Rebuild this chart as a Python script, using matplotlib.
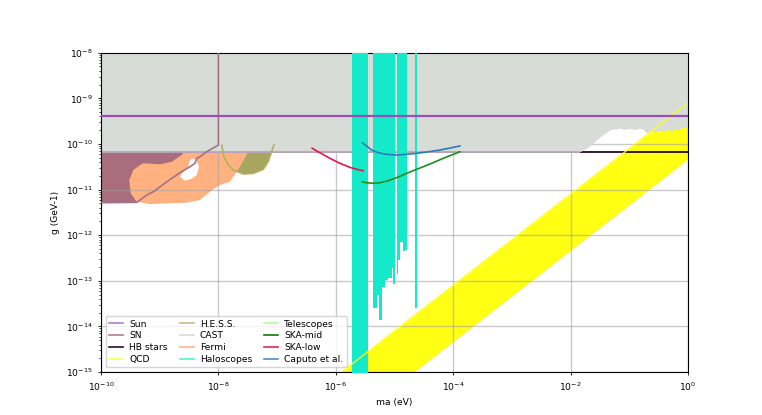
import numpy as np
import matplotlib
matplotlib.use('Agg')
import matplotlib.pyplot as plt
from matplotlib.lines import Line2D

plt.rcParams['font.size'] = 6.6

# Limites del grafico (eV, GeV^-1)
m_lim = (1e-10, 1.0)
g_lim = (1e-15, 1e-8)

# Sol y estrellas HB
sun_g = 4.1e-10
hb_g = 6.6e-11

# SN
sn_m = [1e-8, 1e-8, 6.31e-9, 4.85e-9, 4.27e-9, 3.99e-9, 3.28e-9, 2.21e-9,
        1.32e-9, 7.78e-10, 6.0e-10, 4.61e-10, 4.06e-10, 1e-10]
sn_g = [1e-8, 9.46e-11, 6.75e-11, 5.24e-11, 4.83e-11, 3.76e-11, 3.16e-11, 2.33e-11,
        1.48e-11, 8.95e-12, 7.57e-12, 5.89e-12, 5.24e-12, 5.14e-12]

# CAST
cast_m = [1e-10, 1.4e-2, 2.13e-2, 3.15e-2, 3.98e-2, 4.66e-2, 5.3e-2, 6.0e-2, 6.9e-2,
          8.0e-2, 0.102, 0.12, 0.145, 0.17, 0.199, 0.23, 0.27, 0.33, 0.38, 0.45,
          0.52, 0.6, 0.7, 0.8, 0.9, 1.0]
cast_g = [6.6e-11, 6.6e-11, 9.0e-11, 1.42e-10, 1.78e-10, 2.02e-10, 2.15e-10, 2.1e-10, 2.23e-10,
          2.08e-10, 2.18e-10, 2.05e-10, 2.2e-10, 2.12e-10, 1.73e-10, 1.95e-10, 1.82e-10, 2.02e-10,
          1.85e-10, 2.1e-10, 1.9e-10, 2.23e-10, 2.0e-10, 2.35e-10, 2.2e-10, 2.6e-10]

# QCD
qcd_m = [1e-7, 1.0]
qcd_lo = [4.68e-18, 4.68e-11]
qcd_hi = [7.94e-17, 7.94e-10]

# Fermi
fermi_m = [2.70e-9, 3.31e-8, 2.33e-8, 1.574e-8, 1.064e-8, 7.18e-9, 4.85e-9, 2.88e-9,
           1.315e-9, 6.82e-10, 4.06e-10, 3.21e-10, 3.03e-10, 3.55e-10, 4.61e-10,
           5.25e-10, 1.012e-9, 1.60e-9, 2.37e-9]
fermi_g = [7.10e-11, 7.10e-11, 3.16e-11, 1.48e-11, 1.256e-11, 8.95e-12, 5.89e-12, 5.14e-12,
           4.98e-12, 4.81e-12, 5.40e-12, 8.26e-12, 1.614e-11, 2.68e-11, 3.44e-11,
           3.76e-11, 3.57e-11, 4.07e-11, 5.71e-11]
hole_m = [3.51e-9, 4.15e-9, 4.67e-9, 4.27e-9, 3.41e-9, 2.70e-9, 2.21e-9, 2.52e-9, 3.07e-9, 3.19e-9]
hole_g = [4.83e-11, 4.55e-11, 3.16e-11, 2.08e-11, 1.70e-11, 1.56e-11, 1.91e-11, 2.45e-11,
          3.16e-11, 4.07e-11]

# H.E.S.S.
hess_m = [1.138e-8, 1.245e-8, 1.472e-8, 1.79e-8, 2.65e-8, 3.93e-8, 5.81e-8, 7.06e-8, 8.07e-8, 8.83e-8]
hess_g = [9.46e-11, 5.24e-11, 3.44e-11, 2.68e-11, 2.19e-11, 2.26e-11, 2.77e-11, 4.07e-11,
          6.75e-11, 9.46e-11]

# Haloscopios (escalones)
halo_m = [1.86e-6, 3.57e-6, 4.34e-6, 4.95e-6, 5.42e-6, 6.03e-6, 6.85e-6, 7.82e-6, 8.93e-6,
          9.51e-6, 1.016e-5, 1.086e-5, 1.156e-5, 1.236e-5, 1.374e-5, 1.503e-5, 1.644e-5,
          2.25e-5, 2.40e-5, 1.0]
halo_g = [1e-16, 1e-8, 2.48e-14, 4.9e-14, 1.41e-14, 7.2e-14, 1.04e-13, 1.17e-13, 1.86e-13,
          8.3e-14, 1e-8, 1.41e-13, 2.8e-13, 7.2e-13, 4.4e-13, 4.7e-13, 1e-8, 2.5e-14, 1e-8, 1e-8]

# SKA y Caputo et al.
ska_low_m = [3.96e-7, 5.37e-7, 7.94e-7, 1.175e-6, 1.738e-6, 2.41e-6, 2.93e-6]
ska_low_g = [8.02e-11, 6.41e-11, 4.83e-11, 3.76e-11, 3.07e-11, 2.72e-11, 2.58e-11]
ska_mid_m = [2.82e-6, 3.35e-6, 4.34e-6, 5.64e-6, 7.82e-6, 1.086e-5, 1.607e-5, 2.38e-5,
             4.01e-5, 6.76e-5, 1.30e-4]
ska_mid_g = [1.48e-11, 1.41e-11, 1.37e-11, 1.41e-11, 1.56e-11, 1.82e-11, 2.26e-11, 2.77e-11,
             3.62e-11, 4.83e-11, 6.75e-11]
caputo_m = [2.82e-6, 3.35e-6, 4.07e-6, 5.27e-6, 7.33e-6, 1.086e-5, 1.607e-5, 2.38e-5,
            3.52e-5, 5.93e-5, 1.30e-4]
caputo_g = [1.06e-10, 8.99e-11, 7.35e-11, 6.41e-11, 5.92e-11, 5.71e-11, 5.92e-11, 6.22e-11,
            6.64e-11, 7.35e-11, 9.0e-11]

fig = plt.figure(figsize=(7.62, 4.15), dpi=100)
ax = fig.add_axes([101 / 762, 1 - 372 / 415, 587 / 762, 319.3 / 415])
ax.set_xscale('log')
ax.set_yscale('log')

# Regiones rellenas
ax.fill_between(qcd_m, qcd_lo, qcd_hi, color='#ffff14', lw=0, zorder=1.0)
ax.fill(sn_m + [m_lim[0]], sn_g + [g_lim[1]], color='#a86e7e', lw=0, zorder=1.1)
ax.fill(hess_m, hess_g, color='#a8a55e', lw=0, zorder=1.2)
ax.fill(fermi_m, fermi_g, color='#ffb27f', lw=0, zorder=1.3)
ax.fill(hole_m, hole_g, color='white', lw=0, zorder=1.35)
ax.plot(m_lim, [hb_g, hb_g], color='#24092f', lw=1.3, zorder=1.4)
ax.fill_between(cast_m, cast_g, g_lim[1], color='#d8dcd6', lw=0, zorder=2.0)
flat = np.array(cast_g) <= hb_g * 1.01
ax.plot(np.array(cast_m)[flat], np.array(cast_g)[flat], color='#b9a4bc', lw=1.3, zorder=2.1)
ax.fill_between(halo_m, halo_g, g_lim[1], step='post', color='#14e9c9', lw=0, zorder=3.0)
ax.plot(qcd_m, qcd_hi, color='#ffff14', lw=0.9, zorder=3.1)

# Curvas
ax.plot(sn_m, sn_g, color='#a3728a', lw=1.2, zorder=3.2)
ax.plot(hess_m, hess_g, color='#b3b062', lw=1.2, zorder=3.2)
ax.plot(ska_low_m, ska_low_g, color='#e3174a', lw=1.2, zorder=3.3)
ax.plot(ska_mid_m, ska_mid_g, color='#1a8f1a', lw=1.2, zorder=3.3)
ax.plot(caputo_m, caputo_g, color='#2c7bb6', lw=1.2, zorder=3.3)
ax.plot(m_lim, [sun_g, sun_g], color='#9b4fb4', lw=1.6, zorder=3.4)

ax.set_xlim(*m_lim)
ax.set_ylim(*g_lim)
ax.set_xticks([1e-10, 1e-8, 1e-6, 1e-4, 1e-2, 1.0])
ax.xaxis.set_minor_locator(matplotlib.ticker.NullLocator())
ax.tick_params(which='major', length=2.5, width=0.6)
ax.tick_params(which='minor', length=1.5, width=0.5)
ax.grid(True, which='major', color='#a0a0a0', alpha=0.55, lw=1.0, zorder=2.5)
ax.set_xlabel('ma (eV)')
ax.set_ylabel('g (GeV-1)')

labels = ['Sun', 'SN', 'HB stars', 'QCD', 'H.E.S.S.', 'CAST', 'Fermi', 'Haloscopes',
          'Telescopes', 'SKA-mid', 'SKA-low', 'Caputo et al.']
colors = ['#b47ed0', '#b07d93', '#2b0b3f', '#ffff5a', '#bfbd8c', '#d9d9d9', '#ffb88f',
          '#50f0d6', '#b3ff9e', '#0b7d0b', '#e8264f', '#4f8cc2']
handles = [Line2D([], [], color=c, lw=1.2) for c in colors]
ax.legend(handles, labels, loc='lower left', ncol=3, fontsize=6.6, labelspacing=0.3,
          handlelength=1.5, handletextpad=0.7, columnspacing=1.3)

plt.savefig('out.png', dpi=100)
